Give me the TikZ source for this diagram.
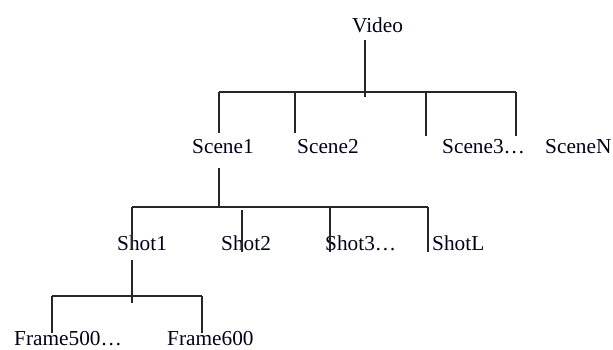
\documentclass[tikz,border=0pt]{standalone}
\usepackage{fontspec}
\setmainfont{Liberation Serif}
\begin{document}
\begin{tikzpicture}[x=1pt,y=-1pt,
  lbl/.style={anchor=base west, inner sep=0pt, text=black!90!blue,
              font=\fontsize{21.3}{24}\selectfont},
  edge/.style={line width=1.3pt, black!85}]
\useasboundingbox (0,0) rectangle (613,349);

% labels
\node[lbl] (video)  at (352,32)  {Video};
\node[lbl] (scene1) at (192,153) {Scene1};
\node[lbl] (scene2) at (297,153) {Scene2};
\node[lbl] (scene3) at (442,153) {Scene3\ldots};
\node[lbl] (sceneN) at (545,153) {SceneN};
\node[lbl] (shot1)  at (117,250) {Shot1};
\node[lbl] (shot2)  at (221,250) {Shot2};
\node[lbl] (shot3)  at (325,250) {Shot3\ldots};
\node[lbl] (shotL)  at (432,250) {ShotL};
\node[lbl] (frameA) at (14,345)  {Frame500\ldots};
\node[lbl] (frameB) at (167,345) {Frame600};

% junction points
\coordinate (v0) at (365,40);  \coordinate (v1) at (365,97);
\coordinate (sa) at (219,92);  \coordinate (sb) at (295,92);
\coordinate (sc) at (426,92);  \coordinate (sd) at (516,92);
\coordinate (sa2) at (219,133); \coordinate (sb2) at (295,133);
\coordinate (sc2) at (426,136); \coordinate (sd2) at (516,136);

\coordinate (s0) at (219,168); \coordinate (s1) at (219,208);
\coordinate (ta) at (132,207); \coordinate (tb) at (242,210);
\coordinate (tc) at (330,207); \coordinate (td) at (428,207);
\coordinate (ta2) at (132,250); \coordinate (tb2) at (242,252);
\coordinate (tc2) at (330,252); \coordinate (td2) at (428,252);

\coordinate (h0) at (132,260); \coordinate (h1) at (132,303);
\coordinate (fa) at (52,296);  \coordinate (fb) at (202,296);
\coordinate (fa2) at (52,333); \coordinate (fb2) at (202,333);

% Video -> scenes
\draw[edge] (v0) -- (v1);
\draw[edge] (sa) -- (sd);
\draw[edge] (sa) -- (sa2);
\draw[edge] (sb) -- (sb2);
\draw[edge] (sc) -- (sc2);
\draw[edge] (sd) -- (sd2);

% Scene1 -> shots
\draw[edge] (s0) -- (s1);
\draw[edge] (ta) -- (td);
\draw[edge] (ta) -- (ta2);
\draw[edge] (tb) -- (tb2);
\draw[edge] (tc) -- (tc2);
\draw[edge] (td) -- (td2);

% Shot1 -> frames
\draw[edge] (h0) -- (h1);
\draw[edge] (fa) -- (fb);
\draw[edge] (fa) -- (fa2);
\draw[edge] (fb) -- (fb2);
\end{tikzpicture}
\end{document}
